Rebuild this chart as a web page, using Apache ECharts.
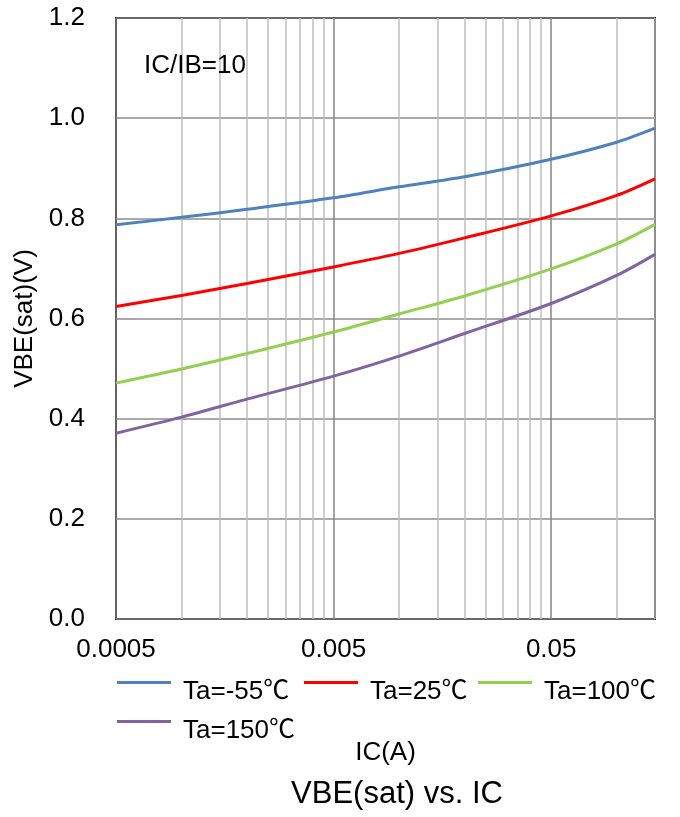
<!DOCTYPE html>
<html>
<head>
<meta charset="utf-8">
<script src="https://cdn.jsdelivr.net/npm/echarts@6/dist/echarts.min.js"></script>
<style>
  html, body { margin: 0; padding: 0; background: #fff; }
  #chart { width: 680px; height: 817px; }
</style>
</head>
<body>
<div id="chart"></div>
<script>
// Collector current IC (A) at which VBE(sat) is sampled
const currents = [0.0005, 0.001, 0.002, 0.005, 0.01, 0.02, 0.05, 0.1, 0.15];

// VBE(sat) (V) per ambient temperature, IC/IB = 10
const vbeM55 = [0.787, 0.802, 0.818, 0.841, 0.863, 0.883, 0.918, 0.952, 0.980];
const vbe25  = [0.624, 0.646, 0.670, 0.703, 0.730, 0.761, 0.805, 0.846, 0.879];
const vbe100 = [0.471, 0.499, 0.530, 0.573, 0.609, 0.645, 0.699, 0.749, 0.788];
const vbe150 = [0.371, 0.403, 0.439, 0.485, 0.525, 0.570, 0.630, 0.686, 0.728];

const seriesNames = ['Ta=-55℃', 'Ta=25℃', 'Ta=100℃', 'Ta=150℃'];
const seriesColors = ['#4F81BD', '#FF0000', '#92D050', '#8064A2'];

// Log-axis grid positions (1..9 multiples of each 0.0005 decade) and labelled ticks
const xTickValues = [0.0005, 0.001, 0.0015, 0.002, 0.0025, 0.003, 0.0035, 0.004, 0.0045,
                     0.005, 0.01, 0.015, 0.02, 0.025, 0.03, 0.035, 0.04, 0.045,
                     0.05, 0.1, 0.15];
const xLabelValues = [0.0005, 0.005, 0.05];

const FONT = "'Liberation Sans', Arial, 'Noto Sans CJK JP', sans-serif";

const chart = echarts.init(document.getElementById('chart'), null, { renderer: 'canvas' });

const curves = [vbeM55, vbe25, vbe100, vbe150];
const series = curves.map((vals, i) => ({
  name: seriesNames[i],
  type: 'line',
  data: currents.map((c, j) => [c, vals[j]]),
  smooth: 0.3,
  symbol: 'none',
  lineStyle: { color: seriesColors[i], width: 3 },
  itemStyle: { color: seriesColors[i] },
  z: 3
}));

// Darker line at each decade start, lighter for the intermediate multiples
const gridColors = xTickValues.map((v) => xLabelValues.includes(v) ? '#848484' : '#BEBEBE');

// Legend key: a 3px bar sitting at the top of a taller box, so the bar rides above the text centre
const legendKey = 'path://M0,0L54,0L54,3L0,3Z M0,21L0,21Z';
// Text box width reserved for each legend entry
const legendTextWidths = [111, 98, 120, 120];

chart.setOption({
  animation: false,
  backgroundColor: '#ffffff',
  textStyle: { fontFamily: FONT },
  grid: {
    left: 116, top: 18, width: 539, height: 601,
    show: true, borderColor: '#000000', borderWidth: 2, backgroundColor: 'transparent',
    containLabel: false
  },
  xAxis: {
    type: 'log',
    logBase: 10,
    min: 0.0005,
    max: 0.15,
    name: 'IC(A)',
    nameLocation: 'middle',
    nameGap: 121,
    nameTextStyle: { fontSize: 26, color: '#000', fontFamily: FONT },
    axisLine: { show: false },
    axisTick: { show: false, customValues: xTickValues },
    axisLabel: {
      customValues: xLabelValues,
      margin: 18,
      fontSize: 26,
      color: '#000',
      fontFamily: FONT,
      formatter: (v) => String(Number(Number(v).toPrecision(6)))
    },
    splitLine: { show: true, lineStyle: { color: gridColors, width: 1.5 } },
    minorSplitLine: { show: false }
  },
  yAxis: {
    type: 'value',
    min: 0,
    max: 1.2,
    interval: 0.2,
    name: 'VBE(sat)(V)',
    nameLocation: 'middle',
    nameGap: 76,
    nameTextStyle: { fontSize: 26, color: '#000', fontFamily: FONT },
    axisLine: { show: false },
    axisTick: { show: false },
    axisLabel: {
      margin: 31,
      fontSize: 26,
      color: '#000',
      fontFamily: FONT,
      formatter: (v) => v.toFixed(1)
    },
    splitLine: { show: true, lineStyle: { color: '#8C8C8C', width: 1.5 } }
  },
  legend: {
    data: seriesNames.map((name, i) => ({
      name: name,
      textStyle: { width: legendTextWidths[i], overflow: 'none' }
    })),
    left: 117,
    top: 677,
    width: 560,
    padding: 0,
    itemGap: 10,
    itemWidth: 54,
    itemHeight: 21,
    icon: legendKey,
    textStyle: {
      fontSize: 26,
      lineHeight: 29,
      color: '#000',
      fontFamily: FONT,
      padding: [0, 0, 0, 7]
    }
  },
  graphic: [
    {
      type: 'text',
      x: 144, y: 66,
      style: { text: 'IC/IB=10', fill: '#000', font: '26px ' + FONT, verticalAlign: 'middle' },
      z: 10
    },
    {
      type: 'text',
      x: 397, y: 794,
      style: { text: 'VBE(sat) vs. IC', fill: '#000', font: '31px ' + FONT, textAlign: 'center', verticalAlign: 'middle' },
      z: 10
    }
  ],
  series: series
});
</script>
</body>
</html>
